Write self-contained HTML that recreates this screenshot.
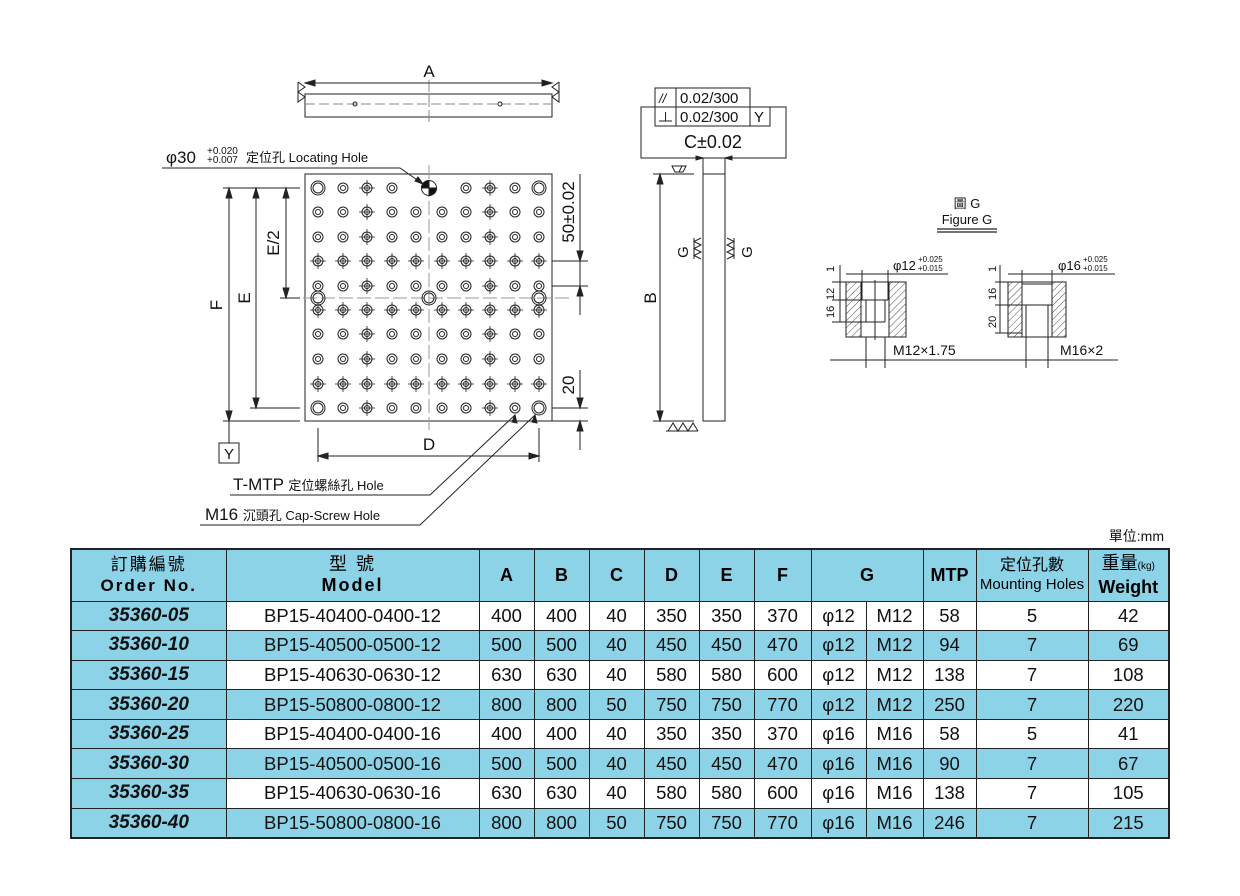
<!DOCTYPE html>
<html><head><meta charset="utf-8"><style>
body{margin:0;background:#fff;width:1240px;height:896px;position:relative;overflow:hidden;font-family:"Liberation Sans","Noto Sans CJK TC",sans-serif}
svg{position:absolute;left:0;top:0}
table{position:absolute;left:70px;top:548px;width:1099px;table-layout:fixed;border-collapse:collapse;border:2px solid #222}
td{border:1.5px solid #222;padding:0;text-align:center;font-size:18.5px;color:#111;line-height:20px}
tr{height:29.6px}
tr.hd{height:52px}
.b{background:#8dd3e8}
.o{font-weight:bold;font-style:italic;font-size:19px;background:#8dd3e8}
th{border:1.5px solid #222;background:#8dd3e8;font-weight:bold;font-size:18px;padding:0;line-height:21px}
</style></head><body>
<svg width="1240" height="896" viewBox="0 0 1240 896" font-family="Liberation Sans, Noto Sans CJK TC, sans-serif" fill="none" stroke="#222" stroke-width="1">
<defs>
<g id="h"><circle r="5"/><circle r="2.5"/></g>
<g id="hp"><circle r="5"/><circle r="2.5"/><path d="M-8 0H8M0-8V8" stroke-width="0.8"/></g>
<g id="H"><circle r="7"/><circle r="5"/></g>
<g id="row"><use href="#h" x="318"/><use href="#h" x="343"/><use href="#hp" x="367"/><use href="#h" x="392"/><use href="#h" x="416"/><use href="#h" x="442"/><use href="#h" x="466"/><use href="#hp" x="490"/><use href="#h" x="515"/><use href="#h" x="539"/></g>
<g id="rowp"><use href="#hp" x="318"/><use href="#hp" x="343"/><use href="#hp" x="367"/><use href="#hp" x="392"/><use href="#hp" x="416"/><use href="#hp" x="442"/><use href="#hp" x="466"/><use href="#hp" x="490"/><use href="#hp" x="515"/><use href="#hp" x="539"/></g>
</defs>
<!-- top view -->
<rect x="305" y="94" width="247" height="23"/>
<path d="M305 104H552" stroke-dasharray="10 4" stroke="#888"/>
<path d="M429 80V125" stroke="#888" stroke-dasharray="12 3"/>
<circle cx="355" cy="104" r="2"/><circle cx="500" cy="104" r="2"/>
<path d="M305 83H552"/><path d="M305 83l10-3v6zM552 83l-10-3v6z" fill="#222"/>
<path d="M298 82l7 5-7 5 7 5-7 5v-20" /><path d="M559 82l-7 5 7 5-7 5 7 5v-20"/>
<text x="429" y="77" font-size="17" fill="#111" stroke="none" text-anchor="middle">A</text>
<!-- plate -->
<rect x="305" y="174" width="247" height="247"/>
<path d="M429 165V430M285 298H570" stroke="#999" stroke-dasharray="14 4"/>
<g transform="translate(0,188)"><use href="#h" x="343"/><use href="#hp" x="367"/><use href="#h" x="392"/><use href="#h" x="466"/><use href="#hp" x="490"/><use href="#h" x="515"/><use href="#H" x="318"/><use href="#H" x="539"/></g>
<circle cx="429" cy="188" r="7.5"/><path d="M429 188V180.5A7.5 7.5 0 0 0 421.5 188ZM429 188V195.5A7.5 7.5 0 0 0 436.5 188Z" fill="#111"/>
<use href="#row" y="212"/><use href="#row" y="237"/><use href="#rowp" y="261"/><use href="#row" y="286"/><use href="#rowp" y="310"/><use href="#row" y="334"/><use href="#row" y="359"/><use href="#rowp" y="384"/>
<g transform="translate(0,408)"><use href="#h" x="343"/><use href="#hp" x="367"/><use href="#h" x="392"/><use href="#h" x="416"/><use href="#h" x="442"/><use href="#h" x="466"/><use href="#hp" x="490"/><use href="#h" x="515"/><use href="#H" x="318"/><use href="#H" x="539"/></g>
<use href="#H" x="318" y="298"/><use href="#H" x="429" y="298"/><use href="#H" x="539" y="298"/>
<!-- left dims -->
<path d="M223 188H300M250 408H300M223 421H300M280 298H300"/>
<path d="M229 188V421M256 188V408M286 188V298"/>
<path d="M229 188l-3 10h6zM229 421l-3-10h6zM256 188l-3 10h6zM256 408l-3-10h6zM286 188l-3 10h6zM286 298l-3-10h6z" fill="#222"/>
<path d="M229 421V443"/><rect x="219" y="443" width="20" height="20"/>
<text x="229" y="459" font-size="15" fill="#111" stroke="none" text-anchor="middle">Y</text>
<text transform="translate(222,305) rotate(-90)" font-size="17" fill="#111" stroke="none" text-anchor="middle">F</text>
<text transform="translate(250,298) rotate(-90)" font-size="17" fill="#111" stroke="none" text-anchor="middle">E</text>
<text transform="translate(279,243) rotate(-90)" font-size="17" fill="#111" stroke="none" text-anchor="middle">E/2</text>
<!-- D -->
<path d="M318 428V462M539 428V462M318 456H539"/><path d="M318 456l10-3v6zM539 456l-10-3v6z" fill="#222"/>
<text x="429" y="450" font-size="17" fill="#111" stroke="none" text-anchor="middle">D</text>
<!-- right dims -->
<path d="M580 174V261M580 261V286M580 286V315M552 261H588M552 286H588M580 370V408M552 408H588M552 421H588M580 421V450"/>
<path d="M580 261l-3-10h6zM580 286l-3 10h6zM580 408l-3-10h6zM580 421l-3 10h6z" fill="#222"/>
<text transform="translate(574,212) rotate(-90)" font-size="17" fill="#111" stroke="none" text-anchor="middle">50±0.02</text>
<text transform="translate(574,385) rotate(-90)" font-size="17" fill="#111" stroke="none" text-anchor="middle">20</text>
<!-- leaders -->
<path d="M162 168H400L423 184"/><path d="M423 184l-8-3 3-4z" fill="#222"/>
<text x="166" y="163" font-size="17" fill="#111" stroke="none">φ30</text>
<text x="207" y="154" font-size="10" fill="#111" stroke="none">+0.020</text>
<text x="207" y="163" font-size="10" fill="#111" stroke="none">+0.007</text>
<text x="246" y="162" font-size="13" fill="#111" stroke="none">定位孔 Locating Hole</text>
<path d="M230 495H430L515 415M200 525H420L535 415"/>
<path d="M515 415l-3 7 5 1zM535 415l-3 7 5 1z" fill="#222"/>
<text x="233" y="490" font-size="17" fill="#111" stroke="none">T-MTP <tspan font-size="13">定位螺絲孔 Hole</tspan></text>
<text x="205" y="520" font-size="17" fill="#111" stroke="none">M16 <tspan font-size="13">沉頭孔 Cap-Screw Hole</tspan></text>
<!-- side view -->
<rect x="703" y="174" width="22" height="247"/>
<path d="M653 174H694M653 421H694M660 174V421"/><path d="M660 174l-3 10h6zM660 421l-3-10h6z" fill="#222"/>
<path d="M672 166h14l-3 6h-8zM679 172l3-6"/>
<path d="M668 431l5-8 5 8 5-8 5 8 5-8 5 8" /><path d="M666 431H698"/>
<text transform="translate(656,298) rotate(-90)" font-size="17" fill="#111" stroke="none" text-anchor="middle">B</text>
<path d="M701 238l-7 3.5 7 3.5-7 3.5 7 3.5-7 3.5 7 3.5M694 238V259M727 238l7 3.5-7 3.5 7 3.5-7 3.5 7 3.5-7 3.5M734 238V259"/>
<text transform="translate(688,252) rotate(-90)" font-size="15" fill="#111" stroke="none" text-anchor="middle">G</text>
<text transform="translate(752,252) rotate(-90)" font-size="15" fill="#111" stroke="none" text-anchor="middle">G</text>
<!-- FCF -->
<rect x="641" y="107" width="145" height="51"/>
<rect x="655" y="88" width="95" height="19" fill="#fff"/><path d="M676 88V126M655 107H770V126H655V107M750 107V126"/>
<rect x="655" y="107" width="115" height="19" fill="#fff"/><path d="M676 107V126M750 107V126"/>
<text x="659" y="103" font-size="13" fill="#111" stroke="none" font-style="italic">//</text>
<path d="M659 121H672M665.5 112V121"/>
<text x="680" y="103" font-size="15" fill="#111" stroke="none">0.02/300</text>
<text x="680" y="122" font-size="15" fill="#111" stroke="none">0.02/300</text>
<text x="754" y="122" font-size="15" fill="#111" stroke="none">Y</text>
<text x="713" y="148" font-size="18" fill="#111" stroke="none" text-anchor="middle">C±0.02</text>
<path d="M703 158V174M725 158V174M690 158H735"/><path d="M703 158l-7-2v4zM725 158l7-2v4z" fill="#222"/>
<!-- Figure G -->
<text x="967" y="208" font-size="13" fill="#111" stroke="none" text-anchor="middle">圖 G</text>
<text x="967" y="224" font-size="13" fill="#111" stroke="none" text-anchor="middle">Figure G</text>
<path d="M937 229H997M937 232H997" stroke-width="1.3"/>
<defs><pattern id="hat" width="5" height="5" patternUnits="userSpaceOnUse" patternTransform="rotate(45)"><path d="M0 0V5" stroke="#222" stroke-width="0.8"/></pattern></defs>
<rect x="846" y="282" width="60" height="55" fill="url(#hat)"/>
<rect x="861" y="282" width="28" height="55" fill="#fff"/><rect x="846" y="282" width="60" height="55"/>
<path d="M862 282V300M888 282V300M866 300V322M885 300V322M862 300H888M866 322H885M866 337V368M885 337V368M875 280V340" />
<path d="M832 282H846M832 300H862M832 322H866M840 265V322M846 274H948M862 270V282M888 270V282M830 360H1000"/>
<text transform="translate(834,272) rotate(-90)" font-size="11" fill="#111" stroke="none">1</text>
<text transform="translate(834,300) rotate(-90)" font-size="11" fill="#111" stroke="none">12</text>
<text transform="translate(834,318) rotate(-90)" font-size="11" fill="#111" stroke="none">16</text>
<text x="893" y="270" font-size="13" fill="#111" stroke="none">φ12</text>
<text x="918" y="262" font-size="8" fill="#111" stroke="none">+0.025</text><text x="918" y="271" font-size="8" fill="#111" stroke="none">+0.015</text>
<text x="893" y="355" font-size="14" fill="#111" stroke="none">M12×1.75</text>
<rect x="1008" y="282" width="58" height="55" fill="url(#hat)"/>
<rect x="1022" y="282" width="30" height="55" fill="#fff"/><rect x="1008" y="282" width="58" height="55"/>
<path d="M1022 282V337M1052 282V337M1026 305V337M1048 305V337M1022 305H1052M1022 284H1052M1026 337V368M1048 337V368"/>
<path d="M995 282H1008M995 305H1022M995 333H1022M1000 265V333M1008 274H1115M1022 270V282M1052 270V282M990 360H1118"/>
<text transform="translate(996,272) rotate(-90)" font-size="11" fill="#111" stroke="none">1</text>
<text transform="translate(996,300) rotate(-90)" font-size="11" fill="#111" stroke="none">16</text>
<text transform="translate(996,328) rotate(-90)" font-size="11" fill="#111" stroke="none">20</text>
<text x="1058" y="270" font-size="13" fill="#111" stroke="none">φ16</text>
<text x="1083" y="262" font-size="8" fill="#111" stroke="none">+0.025</text><text x="1083" y="271" font-size="8" fill="#111" stroke="none">+0.015</text>
<text x="1060" y="355" font-size="14" fill="#111" stroke="none">M16×2</text>
<text x="1164" y="541" font-size="14" fill="#111" stroke="none" text-anchor="end">單位:mm</text>
</svg>
<table>
<colgroup><col style="width:155px"><col style="width:253px"><col style="width:55px"><col style="width:55px"><col style="width:55px"><col style="width:55px"><col style="width:55px"><col style="width:57px"><col style="width:55px"><col style="width:57px"><col style="width:53px"><col style="width:112px"><col style="width:81px"></colgroup>
<tr class="hd"><th style="font-size:17px;letter-spacing:2px"><span style="font-weight:normal">訂購編號</span><br>Order No.</th><th style="letter-spacing:2px"><span style="font-weight:normal">型 號</span><br>Model</th><th>A</th><th>B</th><th>C</th><th>D</th><th>E</th><th>F</th><th colspan="2">G</th><th>MTP</th><th style="font-size:15px;line-height:19px"><span style="font-weight:normal;font-size:16px">定位孔數</span><br><span style="font-weight:normal">Mounting Holes</span></th><th><span style="font-weight:normal">重量<small style="font-size:10px">(kg)</small></span><br>Weight</th></tr>
<tr><td class="o">35360-05</td><td>BP15-40400-0400-12</td><td>400</td><td>400</td><td>40</td><td>350</td><td>350</td><td>370</td><td>φ12</td><td>M12</td><td>58</td><td>5</td><td>42</td></tr>
<tr class="b"><td class="o">35360-10</td><td>BP15-40500-0500-12</td><td>500</td><td>500</td><td>40</td><td>450</td><td>450</td><td>470</td><td>φ12</td><td>M12</td><td>94</td><td>7</td><td>69</td></tr>
<tr><td class="o">35360-15</td><td>BP15-40630-0630-12</td><td>630</td><td>630</td><td>40</td><td>580</td><td>580</td><td>600</td><td>φ12</td><td>M12</td><td>138</td><td>7</td><td>108</td></tr>
<tr class="b"><td class="o">35360-20</td><td>BP15-50800-0800-12</td><td>800</td><td>800</td><td>50</td><td>750</td><td>750</td><td>770</td><td>φ12</td><td>M12</td><td>250</td><td>7</td><td>220</td></tr>
<tr><td class="o">35360-25</td><td>BP15-40400-0400-16</td><td>400</td><td>400</td><td>40</td><td>350</td><td>350</td><td>370</td><td>φ16</td><td>M16</td><td>58</td><td>5</td><td>41</td></tr>
<tr class="b"><td class="o">35360-30</td><td>BP15-40500-0500-16</td><td>500</td><td>500</td><td>40</td><td>450</td><td>450</td><td>470</td><td>φ16</td><td>M16</td><td>90</td><td>7</td><td>67</td></tr>
<tr><td class="o">35360-35</td><td>BP15-40630-0630-16</td><td>630</td><td>630</td><td>40</td><td>580</td><td>580</td><td>600</td><td>φ16</td><td>M16</td><td>138</td><td>7</td><td>105</td></tr>
<tr class="b"><td class="o">35360-40</td><td>BP15-50800-0800-16</td><td>800</td><td>800</td><td>50</td><td>750</td><td>750</td><td>770</td><td>φ16</td><td>M16</td><td>246</td><td>7</td><td>215</td></tr>
</table>
</body></html>
